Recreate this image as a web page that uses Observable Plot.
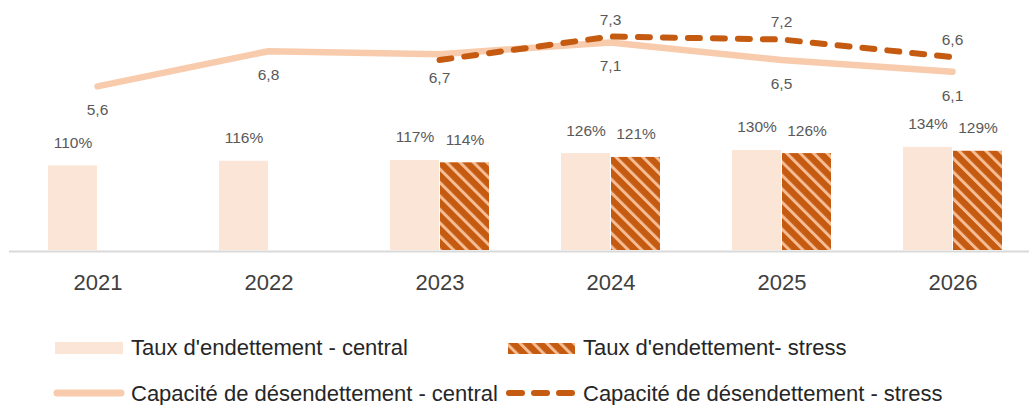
<!DOCTYPE html>
<html><head><meta charset="utf-8">
<script src="https://cdn.jsdelivr.net/npm/d3@7"></script>
<script src="https://cdn.jsdelivr.net/npm/@observablehq/plot@0.6"></script>
<style>
html,body{margin:0;padding:0;background:#fff;overflow:hidden;}
#wrap{position:relative;width:1029px;height:405px;overflow:hidden;font-family:"Liberation Sans",Arial,sans-serif;}
#wrap svg{position:absolute;left:0;top:0;}
.lg{position:absolute;font-size:22px;color:#262626;line-height:22px;white-space:nowrap;}
</style></head><body><div id="wrap"></div>
<script>
// ---- data ----
const years = ["2021", "2022", "2023", "2024", "2025", "2026"];
const tauxCentral = [110, 116, 117, 126, 130, 134];          // %
const tauxStress  = [null, null, 114, 121, 126, 129];        // %
const capCentral  = [5.6, 6.8, 6.7, 7.1, 6.5, 6.1];
const capStress   = [null, null, 6.5, 7.3, 7.2, 6.6];
const capStressShown = [false, false, false, true, true, true];
const legendLabels = [
  "Taux d'endettement - central",
  "Taux d'endettement- stress",
  "Capacité de désendettement - central",
  "Capacité de désendettement - stress"
];

// ---- styles ----
const C_LIGHT = "#FBE5D6", C_LINE = "#F8CBAD", C_DARK = "#C55A11", C_STRIPE = "#F6BC94";
const FONT = "'Liberation Sans', Arial, sans-serif";
const W = 1029, H = 300, BASE = 250;
const xRange = [9, 1040];
const fr = v => v.toFixed(1).replace(".", ",");

const rows = years.map((year, i) => ({
  year, central: tauxCentral[i], stress: tauxStress[i],
  capC: capCentral[i], capS: capStress[i], showS: capStressShown[i]
}));
const stressRows = rows.filter(d => d.stress != null);
const capSRows = rows.filter(d => d.capS != null);

const wrap = document.getElementById("wrap");

function addPattern(svg, id) {
  const ns = "http://www.w3.org/2000/svg";
  const defs = document.createElementNS(ns, "defs");
  defs.innerHTML = `<pattern id="${id}" patternUnits="userSpaceOnUse" width="9.5" height="9.5" patternTransform="rotate(-45)">
    <rect width="9.5" height="9.5" fill="${C_DARK}"/><rect width="3" height="9.5" fill="${C_STRIPE}"/></pattern>`;
  svg.insertBefore(defs, svg.firstChild);
}

// ---- bars (primary axis) ----
const bars = Plot.plot({
  width: W, height: H, marginTop: 0, marginBottom: H - BASE, marginLeft: xRange[0], marginRight: W - xRange[1],
  style: {background: "transparent", fontFamily: FONT, overflow: "visible"},
  x: {type: "band", domain: years, range: xRange, padding: 0},
  y: {domain: [0, 325], range: [BASE, 0], axis: null},
  marks: [
    Plot.barY(rows, {x: "year", y: "central", fill: C_LIGHT, insetLeft: 36, insetRight: 86}),
    Plot.barY(stressRows, {x: "year", y: "stress", fill: "url(#hatch)", insetLeft: 86, insetRight: 36}),
    Plot.ruleY([0], {stroke: "#D9D9D9", strokeWidth: 2, dy: 1}),
    Plot.text(rows, {x: "year", y: "central", text: d => d.central + "%", dx: -25, dy: -23, fontSize: 15.5, fill: "#595959"}),
    Plot.text(stressRows, {x: "year", y: "stress", text: d => d.stress + "%", dx: 25, dy: -23, fontSize: 15.5, fill: "#595959"}),
    Plot.axisX({tickSize: 0, tickPadding: 24, fontSize: 22, color: "#404040", label: null})
  ]
});
addPattern(bars, "hatch");
wrap.appendChild(bars);

// ---- lines (secondary axis) ----
const lines = Plot.plot({
  width: W, height: H, marginTop: 0, marginBottom: H - BASE, marginLeft: xRange[0], marginRight: W - xRange[1],
  style: {background: "transparent", fontFamily: FONT, overflow: "visible"},
  x: {type: "point", domain: years, range: xRange, padding: 0.5, axis: null},
  y: {domain: [0, 8.53], range: [BASE, 0], axis: null},
  marks: [
    Plot.line(rows, {x: "year", y: "capC", stroke: C_LINE, strokeWidth: 6.5, strokeLinecap: "round", strokeLinejoin: "round"}),
    Plot.line(capSRows, {x: "year", y: "capS", stroke: C_DARK, strokeWidth: 6, strokeDasharray: "12,13", strokeLinecap: "round", strokeLinejoin: "round"}),
    Plot.text(rows, {x: "year", y: "capC", text: d => fr(d.capC), dy: 24, fontSize: 15.5, fill: "#595959"}),
    Plot.text(capSRows.filter(d => d.showS), {x: "year", y: "capS", text: d => fr(d.capS), dy: -17, fontSize: 15.5, fill: "#595959"})
  ]
});
wrap.appendChild(lines);

// ---- legend ----
const ns = "http://www.w3.org/2000/svg";
const lg = document.createElementNS(ns, "svg");
lg.setAttribute("width", W); lg.setAttribute("height", 405);
lg.innerHTML = `
  <rect x="55" y="342" width="68" height="12" fill="${C_LIGHT}"/>
  <rect x="508" y="343" width="67" height="11" fill="url(#hatchL)"/>
  <line x1="57" y1="393" x2="121" y2="393" stroke="${C_LINE}" stroke-width="7" stroke-linecap="round"/>
  <line x1="509" y1="393" x2="572" y2="393" stroke="${C_DARK}" stroke-width="6" stroke-linecap="round" stroke-dasharray="13,12"/>`;
addPattern(lg, "hatchL");
wrap.appendChild(lg);

const pos = [[131, 337], [583, 337], [131, 383], [583, 383]];
legendLabels.forEach((t, i) => {
  const s = document.createElement("div");
  s.className = "lg";
  s.style.left = pos[i][0] + "px";
  s.style.top = pos[i][1] + "px";
  s.textContent = t;
  wrap.appendChild(s);
});
</script></body></html>
